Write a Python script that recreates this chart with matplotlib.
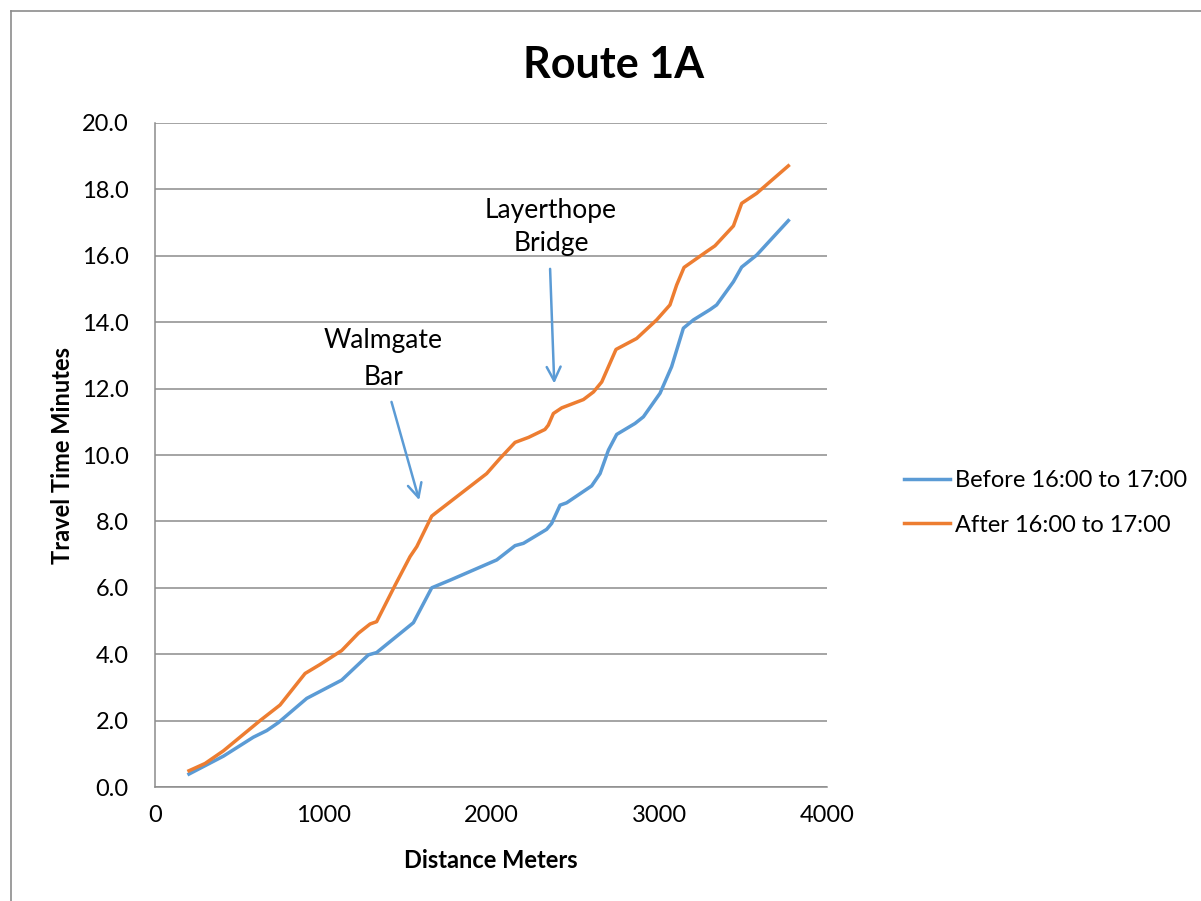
import matplotlib
matplotlib.use("Agg")
import matplotlib.pyplot as plt
from matplotlib.lines import Line2D

plt.rcParams["font.family"] = ["Lato", "DejaVu Sans"]

# Before 16:00 to 17:00 (distance m, travel time min)
before_dist = [202, 407, 585, 665, 734, 903, 1111, 1270, 1319, 1538, 1647, 1756,
               2034, 2143, 2193, 2331, 2361, 2411, 2450, 2599, 2649, 2699, 2748,
               2857, 2907, 3006, 3075, 3145, 3205, 3304, 3343, 3443, 3492, 3581, 3770]
before_time = [0.39, 0.93, 1.50, 1.70, 1.94, 2.67, 3.22, 3.98, 4.05, 4.95, 6.00, 6.23,
               6.84, 7.27, 7.34, 7.76, 7.94, 8.49, 8.56, 9.07, 9.44, 10.15, 10.62,
               10.95, 11.15, 11.86, 12.66, 13.82, 14.07, 14.38, 14.52, 15.22, 15.66, 16.02, 17.06]

# After 16:00 to 17:00
after_dist = [202, 298, 407, 546, 625, 744, 893, 982, 1111, 1210, 1280, 1319, 1429,
              1518, 1558, 1647, 1667, 1974, 2054, 2143, 2223, 2321, 2341, 2371, 2421,
              2550, 2610, 2659, 2744, 2867, 2986, 3065, 3105, 3149, 3284, 3333, 3443,
              3492, 3581, 3770]
after_time = [0.49, 0.71, 1.09, 1.67, 2.00, 2.47, 3.42, 3.69, 4.11, 4.63, 4.91, 4.98, 6.08,
              6.94, 7.24, 8.16, 8.24, 9.44, 9.90, 10.38, 10.53, 10.77, 10.90, 11.25, 11.42,
              11.67, 11.90, 12.20, 13.18, 13.51, 14.07, 14.52, 15.12, 15.65, 16.13, 16.30, 16.90,
              17.58, 17.88, 18.71]

labels = ["Before 16:00 to 17:00", "After 16:00 to 17:00"]
colors = ["#5b9bd5", "#ed7d31"]

fig = plt.figure(figsize=(12.01, 9.01), dpi=100)
ax = fig.add_axes([0.1291, 0.1265, 0.5595, 0.737])

ax.plot(before_dist, before_time, color=colors[0], lw=2.5, label=labels[0],
        solid_joinstyle="round")
ax.plot(after_dist, after_time, color=colors[1], lw=2.5, label=labels[1],
        solid_joinstyle="round")

ax.set_xlim(0, 4000)
ax.set_ylim(0, 20)
ax.set_xticks([0, 1000, 2000, 3000, 4000])
ax.set_yticks(range(0, 21, 2))
ax.set_yticklabels([f"{v:.1f}" for v in range(0, 21, 2)])
ax.tick_params(length=0, labelsize=17)
ax.tick_params(axis="y", pad=19)
ax.tick_params(axis="x", pad=13)
ax.yaxis.grid(True, color="#8c8c8c", lw=1.1)
ax.set_axisbelow(True)
for s in ["top", "right"]:
    ax.spines[s].set_visible(False)
for s in ["left", "bottom"]:
    ax.spines[s].set_color("#8c8c8c")
    ax.spines[s].set_linewidth(1.1)

ax.set_xlabel("Distance Meters", fontsize=17, fontweight="bold", va="center")
ax.set_ylabel("Travel Time Minutes", fontsize=17, fontweight="bold", va="center")
ax.xaxis.set_label_coords(0.5, -0.110)
ax.yaxis.set_label_coords(-0.138, 0.5)
fig.text(0.511, 0.928, "Route 1A", fontsize=31, fontweight="bold",
         ha="center", va="center")

# annotations
arrow = dict(arrowstyle="->,head_length=1.0,head_width=0.5", color=colors[0], lw=1.8)
ax.annotate("", xy=(1577, 8.56), xytext=(1403, 11.68), arrowprops=arrow)
ax.annotate("", xy=(2377, 12.07), xytext=(2351, 15.69), arrowprops=arrow)
ax.text(1357, 12.89, "Walmgate\nBar", fontsize=19, ha="center", va="center",
        linespacing=1.6)
ax.text(2357, 16.87, "Layerthope\nBridge", fontsize=19, ha="center", va="center",
        linespacing=1.4)

handles = [Line2D([], [], color=c, lw=2.5) for c in colors]
fig.legend(handles, labels, loc="center left", bbox_to_anchor=(0.735, 0.442),
           frameon=False, fontsize=17, handlelength=1.95, handletextpad=0.2,
           labelspacing=1.0)

# outer chart border (top and left edges visible)
fig.add_artist(Line2D([0.0088, 1.0], [1 - 11 / 901, 1 - 11 / 901],
                      transform=fig.transFigure, color="#8c8c8c", lw=1.2))
fig.add_artist(Line2D([0.0088, 0.0088], [0, 1 - 11 / 901],
                      transform=fig.transFigure, color="#8c8c8c", lw=1.2))

fig.savefig("out.png", dpi=100)
